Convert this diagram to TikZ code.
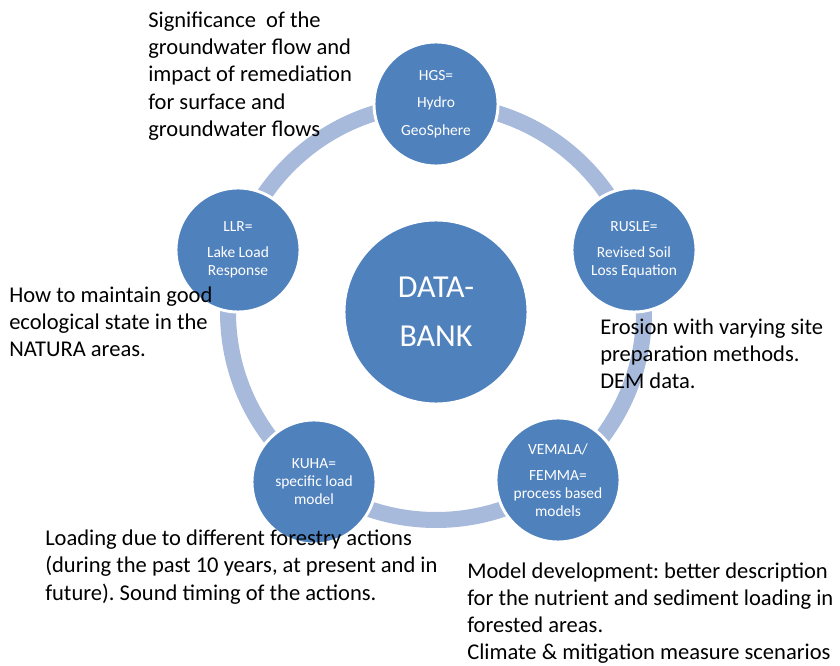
\documentclass[tikz,border=0pt]{standalone}
\usepackage{fontspec}
\setmainfont{Carlito}
\definecolor{circblue}{HTML}{4F81BD}
\definecolor{ringblue}{HTML}{A7BADB}
\frenchspacing
\begin{document}
\begin{tikzpicture}[x=0.75pt,y=-0.75pt,
  ann/.style={anchor=west,inner sep=0pt,align=left,text=black,
    font=\fontsize{16.9}{20.4}\selectfont},
  bub/.style={circle,fill=circblue,draw=white,line width=2.2pt,
    minimum size=93pt,inner sep=0pt,text=white,align=center,
    font=\fontsize{11.6}{13.5}\selectfont},
  bigbub/.style={bub,minimum size=138pt,font=\fontsize{24}{36.75}\selectfont},
  ringline/.style={draw=ringblue,line width=12pt}]
\useasboundingbox (0,0) rectangle (840,666);
\coordinate (ctr) at (436,312);
\draw[ringline] (ctr) circle[radius=156pt];
\node[bigbub] (data) at (436,312) {DATA-\\BANK};
\node[bub] (hgs) at (436,104) {HGS=\\[7pt]Hydro\\[7pt]GeoSphere};
\node[bub] (rusle) at (634,250) {RUSLE=\\[6pt]Revised Soil\\Loss Equation};
\node[bub] (vemala) at (558,480) {VEMALA/\\[6pt]FEMMA=\\process based\\models};
\node[bub] (kuha) at (314,482) {KUHA=\\specific load\\model};
\node[bub] (llr) at (238,250) {LLR=\\[6pt]Lake Load\\Response};
\node[ann] (t1) at (148,76) {Significance\ \ of the\\groundwater flow and\\impact of remediation\\for surface and\\groundwater flows};
\node[ann] (t2) at (9,322) {How to maintain good\\ecological state in the\\NATURA areas.};
\node[ann] (t3) at (600,354) {Erosion with varying site\\preparation methods.\\DEM data.};
\node[ann] (t4) at (45,567) {Loading due to different forestry actions\\(during the past 10 years, at present and in\\future). Sound timing of the actions.};
\node[ann] (t5) at (467,613) {Model development: better description\\for the nutrient and sediment loading in\\forested areas.\\Climate \& mitigation measure scenarios};
\end{tikzpicture}
\end{document}
